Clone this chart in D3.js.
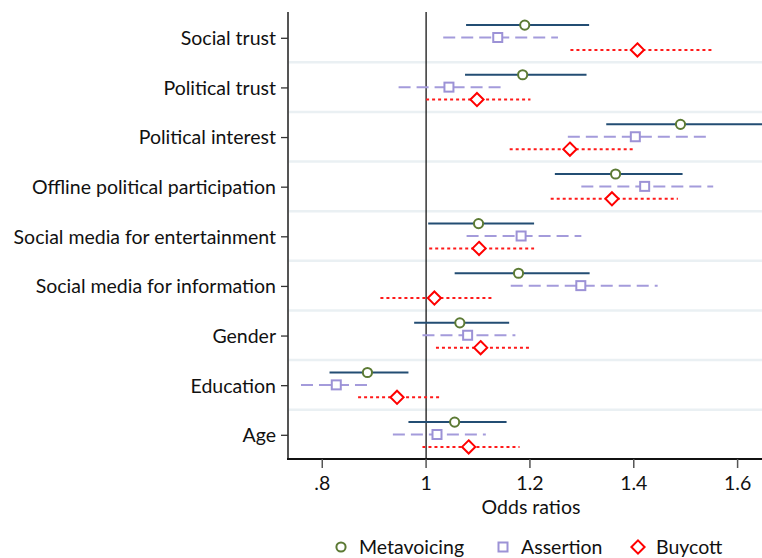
<!DOCTYPE html>
<html>
<head>
<meta charset="utf-8">
<script src="https://cdn.jsdelivr.net/npm/d3@7"></script>
<style>
  html, body { margin: 0; padding: 0; background: #fff; }
  svg { display: block; font-family: Lato, "Open Sans", sans-serif; }
</style>
</head>
<body>
<svg id="chart" width="762" height="558"></svg>
<script>
// Predictors, top to bottom
const categories = [
  "Social trust", "Political trust", "Political interest",
  "Offline political participation", "Social media for entertainment",
  "Social media for information", "Gender", "Education", "Age"
];

// Odds ratios with 95% CI bounds, one entry per predictor
const metavoicingOR = [1.190, 1.186, 1.490, 1.365, 1.101, 1.178, 1.065, 0.887, 1.055];
const metavoicingLo = [1.077, 1.075, 1.347, 1.248, 1.004, 1.055, 0.977, 0.814, 0.966];
const metavoicingHi = [1.314, 1.309, 1.660, 1.494, 1.208, 1.315, 1.160, 0.966, 1.155];

const assertionOR = [1.138, 1.044, 1.403, 1.421, 1.183, 1.298, 1.080, 0.827, 1.021];
const assertionLo = [1.033, 0.947, 1.273, 1.299, 1.078, 1.163, 0.993, 0.759, 0.936];
const assertionHi = [1.254, 1.147, 1.542, 1.553, 1.299, 1.446, 1.172, 0.887, 1.115];

const buycottOR = [1.407, 1.098, 1.277, 1.358, 1.102, 1.016, 1.105, 0.944, 1.082];
const buycottLo = [1.278, 1.000, 1.161, 1.240, 1.006, 0.912, 1.019, 0.869, 0.993];
const buycottHi = [1.550, 1.201, 1.403, 1.485, 1.208, 1.128, 1.200, 1.026, 1.180];

const seriesNames = ["Metavoicing", "Assertion", "Buycott"];
const xTicks = [0.8, 1, 1.2, 1.4, 1.6];
const xTickLabels = [".8", "1", "1.2", "1.4", "1.6"];

const series = [
  { name: seriesNames[0], est: metavoicingOR, lo: metavoicingLo, hi: metavoicingHi,
    line: "#234d73", marker: "#5c7a34", dash: null, shape: "circle", offset: -12.4 },
  { name: seriesNames[1], est: assertionOR, lo: assertionLo, hi: assertionHi,
    line: "#a49bdb", marker: "#9c92d6", dash: "12,6", shape: "square", offset: 0 },
  { name: seriesNames[2], est: buycottOR, lo: buycottLo, hi: buycottHi,
    line: "#ff1a1a", marker: "#ff0000", dash: "3,3", shape: "diamond", offset: 12.4 }
];

const svg = d3.select("#chart");
const plot = { left: 288, right: 762, top: 12, bottom: 459 };
const fontSize = 19.5;

const x = d3.scaleLinear().domain([0.734, 1.647]).range([plot.left, plot.right]);
const y = d3.scalePoint().domain(categories)
  .range([37.5, 434.5]);
const step = y.step();

const clipId = "plot-clip";
svg.append("defs").append("clipPath").attr("id", clipId)
  .append("rect")
  .attr("x", plot.left).attr("y", plot.top)
  .attr("width", plot.right - plot.left).attr("height", plot.bottom - plot.top);

// light separators between predictor groups
svg.append("g").selectAll("line")
  .data(categories.slice(1))
  .join("line")
  .attr("x1", plot.left).attr("x2", plot.right)
  .attr("y1", d => y(d) - step / 2).attr("y2", d => y(d) - step / 2)
  .attr("stroke", "#eaf0f3").attr("stroke-width", 2.5);

// reference line at OR = 1
svg.append("line")
  .attr("x1", x(1)).attr("x2", x(1))
  .attr("y1", plot.top).attr("y2", plot.bottom)
  .attr("stroke", "#000").attr("stroke-width", 1.2);

const marks = svg.append("g").attr("clip-path", `url(#${clipId})`);

function drawMarker(sel, shape, color) {
  if (shape === "circle") {
    sel.append("circle").attr("r", 4.6)
      .attr("fill", "#fff").attr("stroke", color).attr("stroke-width", 2);
  } else if (shape === "square") {
    const s = 9;
    sel.append("rect").attr("x", -s / 2).attr("y", -s / 2).attr("width", s).attr("height", s)
      .attr("fill", "#fff").attr("stroke", color).attr("stroke-width", 2);
  } else {
    const r = 6.6;
    sel.append("path").attr("d", `M0,${-r}L${r},0L0,${r}L${-r},0Z`)
      .attr("fill", "#fff").attr("stroke", color).attr("stroke-width", 2);
  }
}

series.forEach(s => {
  const g = marks.append("g");
  categories.forEach((c, i) => {
    const yy = y(c) + s.offset;
    g.append("line")
      .attr("x1", x(s.lo[i])).attr("x2", x(s.hi[i]))
      .attr("y1", yy).attr("y2", yy)
      .attr("stroke", s.line).attr("stroke-width", 2)
      .attr("stroke-dasharray", s.dash);
  });
  categories.forEach((c, i) => {
    const m = g.append("g").attr("transform", `translate(${x(s.est[i])},${y(c) + s.offset})`);
    drawMarker(m, s.shape, s.marker);
  });
});

// y axis
const yAxis = svg.append("g").attr("transform", `translate(${plot.left},0)`);
yAxis.append("line")
  .attr("x1", 0).attr("x2", 0).attr("y1", plot.top).attr("y2", plot.bottom + 1)
  .attr("stroke", "#555").attr("stroke-width", 2);
yAxis.selectAll("g.tick").data(categories).join("g")
  .attr("class", "tick")
  .attr("transform", d => `translate(0,${y(d) + 0.8})`)
  .each(function (d) {
    const t = d3.select(this);
    t.append("line").attr("x1", -7).attr("x2", 0).attr("stroke", "#333").attr("stroke-width", 1.3);
    t.append("text").attr("x", -12).attr("dy", "0.35em")
      .attr("text-anchor", "end").attr("font-size", fontSize).attr("fill", "#111").text(d);
  });

// x axis
const xAxis = svg.append("g").attr("transform", `translate(0,${plot.bottom})`);
xAxis.append("line")
  .attr("x1", plot.left - 1).attr("x2", plot.right).attr("y1", 0).attr("y2", 0)
  .attr("stroke", "#111").attr("stroke-width", 2);
xAxis.selectAll("g.tick").data(xTicks).join("g")
  .attr("class", "tick")
  .attr("transform", d => `translate(${x(d)},0)`)
  .each(function (d, i) {
    const t = d3.select(this);
    t.append("line").attr("y1", 0).attr("y2", 9).attr("stroke", "#555").attr("stroke-width", 1.5);
    t.append("text").attr("y", 31).attr("text-anchor", "middle")
      .attr("font-size", fontSize).attr("fill", "#111").text(xTickLabels[i]);
  });

svg.append("text")
  .attr("x", 531).attr("y", 514).attr("text-anchor", "middle")
  .attr("font-size", fontSize).attr("fill", "#111").text("Odds ratios");

// legend
const legendX = [341, 503, 638];
series.forEach((s, i) => {
  const lg = svg.append("g").attr("transform", `translate(${legendX[i]},547)`);
  drawMarker(lg, s.shape, s.marker);
  lg.append("text").attr("x", 18).attr("dy", "0.35em")
    .attr("font-size", fontSize).attr("fill", "#111").text(s.name);
});
</script>
</body>
</html>
